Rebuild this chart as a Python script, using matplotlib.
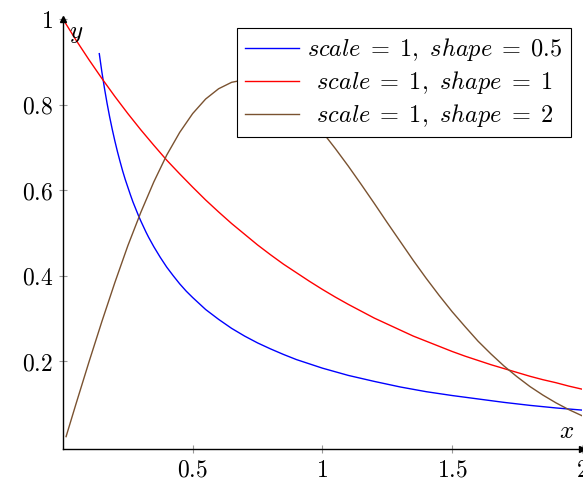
import matplotlib
matplotlib.use("Agg")
import matplotlib.pyplot as plt

plt.rcParams['mathtext.fontset'] = 'cm'
plt.rcParams['font.family'] = 'serif'
plt.rcParams['font.serif'] = ['DejaVu Serif']

# Weibull densities, scale = 1
x_k05 = [0.14, 0.15, 0.16, 0.17, 0.18, 0.19, 0.20, 0.21, 0.22, 0.23, 0.24, 0.25, 0.26,
         0.27, 0.28, 0.29, 0.30, 0.31, 0.32, 0.33, 0.34, 0.35, 0.375, 0.40, 0.425, 0.45,
         0.475, 0.50, 0.55, 0.60, 0.65, 0.70, 0.75, 0.80, 0.85, 0.90, 0.95, 1.00, 1.10,
         1.20, 1.30, 1.40, 1.50, 1.60, 1.70, 1.80, 1.90, 2.00]
y_k05 = [0.919, 0.876, 0.838, 0.803, 0.771, 0.742, 0.715, 0.690, 0.667, 0.645, 0.625, 0.607, 0.589,
         0.572, 0.557, 0.542, 0.528, 0.515, 0.502, 0.490, 0.479, 0.468, 0.443, 0.420, 0.400, 0.381,
         0.364, 0.349, 0.321, 0.298, 0.277, 0.259, 0.243, 0.229, 0.216, 0.204, 0.194, 0.184, 0.167,
         0.153, 0.140, 0.129, 0.120, 0.112, 0.104, 0.097, 0.091, 0.086]

x_k1 = [0.01, 0.05, 0.1, 0.15, 0.2, 0.25, 0.3, 0.35, 0.4, 0.45, 0.5, 0.55, 0.6, 0.65, 0.7,
        0.75, 0.8, 0.85, 0.9, 0.95, 1.0, 1.05, 1.1, 1.15, 1.2, 1.25, 1.3, 1.35, 1.4, 1.45,
        1.5, 1.55, 1.6, 1.65, 1.7, 1.75, 1.8, 1.85, 1.9, 1.95, 2.0]
y_k1 = [0.990, 0.951, 0.905, 0.861, 0.819, 0.779, 0.741, 0.705, 0.670, 0.638, 0.607, 0.577,
        0.549, 0.522, 0.497, 0.472, 0.449, 0.427, 0.407, 0.387, 0.368, 0.350, 0.333, 0.317,
        0.301, 0.287, 0.273, 0.259, 0.247, 0.235, 0.223, 0.212, 0.202, 0.192, 0.183, 0.174,
        0.165, 0.157, 0.150, 0.142, 0.135]

x_k2 = [0.012, 0.05, 0.1, 0.15, 0.2, 0.25, 0.3, 0.35, 0.4, 0.45, 0.5, 0.55, 0.6, 0.65, 0.7,
        0.75, 0.8, 0.85, 0.9, 0.95, 1.0, 1.05, 1.1, 1.15, 1.2, 1.25, 1.3, 1.35, 1.4, 1.45,
        1.5, 1.55, 1.6, 1.65, 1.7, 1.75, 1.8, 1.85, 1.9, 1.95, 2.0]
y_k2 = [0.024, 0.100, 0.198, 0.293, 0.384, 0.470, 0.548, 0.619, 0.682, 0.735, 0.779, 0.813,
        0.837, 0.852, 0.858, 0.855, 0.844, 0.825, 0.801, 0.771, 0.736, 0.697, 0.656, 0.613,
        0.569, 0.524, 0.480, 0.436, 0.394, 0.354, 0.316, 0.281, 0.247, 0.217, 0.189, 0.164,
        0.141, 0.121, 0.103, 0.087, 0.073]

labels = [r'$scale\;=\;1,\ shape\;=\;0.5$',
          r'$\;\,scale\;=\;1,\ shape\;=\;1$',
          r'$\;\,scale\;=\;1,\ shape\;=\;2$']
xticks = [0.5, 1, 1.5, 2]
xticklabels = ['$0.5$', '$1$', '$1.5$', '$2$']
yticks = [0.2, 0.4, 0.6, 0.8, 1]
yticklabels = ['$0.2$', '$0.4$', '$0.6$', '$0.8$', '$1$']

fig = plt.figure(figsize=(5.83, 4.87), dpi=100)
ax = fig.add_axes([0.108, 0.078, 0.890, 0.883])

ax.plot(x_k05, y_k05, color='#0000ff', lw=1.0, label=labels[0])
ax.plot(x_k1, y_k1, color='#ff0000', lw=1.0, label=labels[1])
ax.plot(x_k2, y_k2, color='#7a5230', lw=1.0, label=labels[2])

ax.set_xlim(0, 2)
ax.set_ylim(-0.005, 1)
ax.spines['top'].set_visible(False)
ax.spines['right'].set_visible(False)
ax.spines['left'].set_linewidth(1.0)
ax.spines['bottom'].set_linewidth(1.0)

ax.set_xticks(xticks)
ax.set_xticklabels(xticklabels)
ax.set_yticks(yticks)
ax.set_yticklabels(yticklabels)
ax.tick_params(direction='inout', length=6, width=0.8, color='#999999',
               labelsize=17, pad=4)

# axis arrows
ax.plot([0], [1], marker='^', color='black', markersize=5, clip_on=False)
ax.plot([2], [-0.005], marker='>', color='black', markersize=5, clip_on=False)

ax.text(0.025, 0.965, '$y$', fontsize=18, va='center', ha='left')
ax.text(1.94, 0.035, '$x$', fontsize=18, va='center', ha='center')

leg = ax.legend(loc='upper right', bbox_to_anchor=(0.979, 0.979), fontsize=17.5,
                frameon=True, fancybox=False, edgecolor='black', framealpha=1,
                handlelength=2.2, borderaxespad=0, borderpad=0.33,
                labelspacing=0.25, handletextpad=0.35)
leg.get_frame().set_linewidth(0.8)

fig.savefig('out.png', dpi=100)
